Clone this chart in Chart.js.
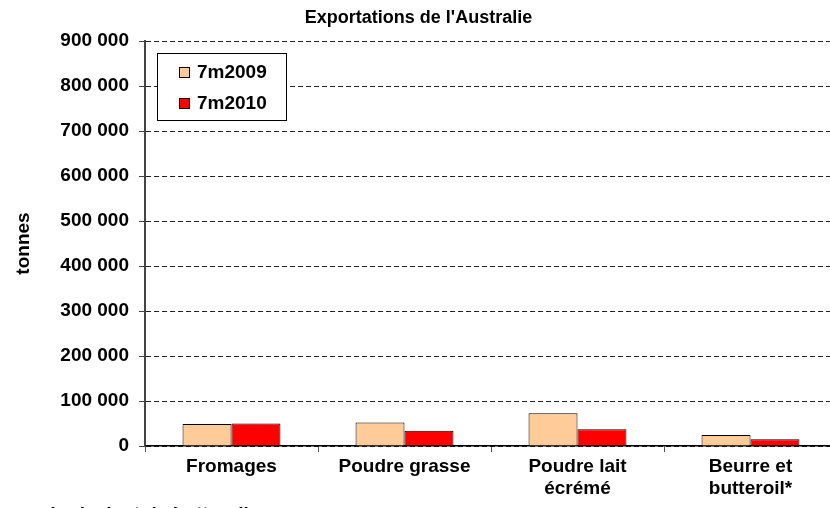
<!DOCTYPE html>
<html>
<head>
<meta charset="utf-8">
<script src="https://cdn.jsdelivr.net/npm/chart.js@4/dist/chart.umd.min.js"></script>
<style>
  html, body { margin: 0; padding: 0; background: #fff; overflow: hidden; }
  #wrap { width: 830px; height: 508px; overflow: hidden; }
</style>
</head>
<body>
<div id="wrap"><canvas id="chart" width="840" height="508"></canvas></div>
<script>
// categories and values (tonnes)
const categories = ['Fromages', 'Poudre grasse', ['Poudre lait', 'écrémé'], ['Beurre et', 'butteroil*']];
const seriesNames = ['7m2009', '7m2010'];
const exp2009 = [49000, 52000, 73000, 24500];
const exp2010 = [50000, 34000, 37000, 15000];
const yTicks = [0, 100000, 200000, 300000, 400000, 500000, 600000, 700000, 800000, 900000];

const FONT = 'Arial, "Liberation Sans", sans-serif';

const fmt = v => String(v).replace(/\B(?=(\d{3})+(?!\d))/g, ' ');

// boxed legend inside the plot
const boxLegend = {
  id: 'boxLegend',
  afterDraw(chart) {
    const ctx = chart.ctx;
    ctx.save();
    ctx.fillStyle = '#fff';
    ctx.fillRect(157, 53, 129, 67);
    ctx.strokeStyle = '#000';
    ctx.lineWidth = 1;
    ctx.strokeRect(157.5, 53.5, 129, 67);
    ctx.font = 'bold 19px ' + FONT;
    ctx.textBaseline = 'middle';
    chart.data.datasets.forEach((ds, i) => {
      const y = 72 + i * 31;
      ctx.fillStyle = ds.backgroundColor;
      ctx.fillRect(179, y - 5, 10, 10);
      ctx.strokeRect(179.5, y - 4.5, 10, 10);
      ctx.fillStyle = '#000';
      ctx.fillText(ds.label, 197, y + 1);
    });
    ctx.restore();
  }
};

// footnote, mostly cut by the bottom edge
const footnote = {
  id: 'footnote',
  afterDraw(chart) {
    const ctx = chart.ctx;
    ctx.save();
    ctx.font = 'bold 19px ' + FONT;
    ctx.fillStyle = '#000';
    ctx.textBaseline = 'alphabetic';
    ctx.fillText('équivalent de butteroil', 46, 519.5);
    ctx.restore();
  }
};

new Chart(document.getElementById('chart'), {
  type: 'bar',
  data: {
    labels: categories,
    datasets: [
      { label: seriesNames[0], data: exp2009, backgroundColor: '#FFCC99', borderColor: '#000', borderWidth: 1 },
      { label: seriesNames[1], data: exp2010, backgroundColor: '#FF0000', borderColor: '#000', borderWidth: 1 }
    ]
  },
  options: {
    responsive: false,
    animation: false,
    layout: { padding: { left: 0, right: 3, top: 0, bottom: 0 } },
    datasets: { bar: { categoryPercentage: 0.566, barPercentage: 1 } },
    plugins: {
      legend: { display: false },
      tooltip: { enabled: false },
      title: {
        display: true,
        text: "Exportations de l'Australie",
        color: '#000',
        font: { family: FONT, size: 18, weight: 'bold' },
        padding: { top: 7, bottom: 12.4 }
      }
    },
    scales: {
      x: {
        grid: { display: true, drawOnChartArea: false, drawTicks: true, tickLength: 6, color: '#555', offset: true },
        border: { display: true, color: '#000', width: 1.5 },
        ticks: { color: '#000', padding: 3, maxRotation: 0, autoSkip: false, font: { family: FONT, size: 19, weight: 'bold' } },
        afterFit(scale) { scale.height = 62; }
      },
      y: {
        min: 0,
        max: 900000,
        afterBuildTicks(scale) { scale.ticks = yTicks.map(v => ({ value: v })); },
        grid: { color: '#222', tickLength: 6, tickColor: '#444', tickBorderDash: [] },
        border: { display: true, color: '#444', width: 2, dash: [5, 3] },
        ticks: { color: '#000', padding: 10, font: { family: FONT, size: 19, weight: 'bold' }, callback: v => fmt(v) },
        title: {
          display: true,
          text: 'tonnes',
          color: '#000',
          font: { family: FONT, size: 19, weight: 'bold' },
          padding: { top: 12, bottom: 0 }
        },
        afterFit(scale) { scale.width = 145; }
      }
    }
  },
  plugins: [boxLegend, footnote]
});
</script>
</body>
</html>
